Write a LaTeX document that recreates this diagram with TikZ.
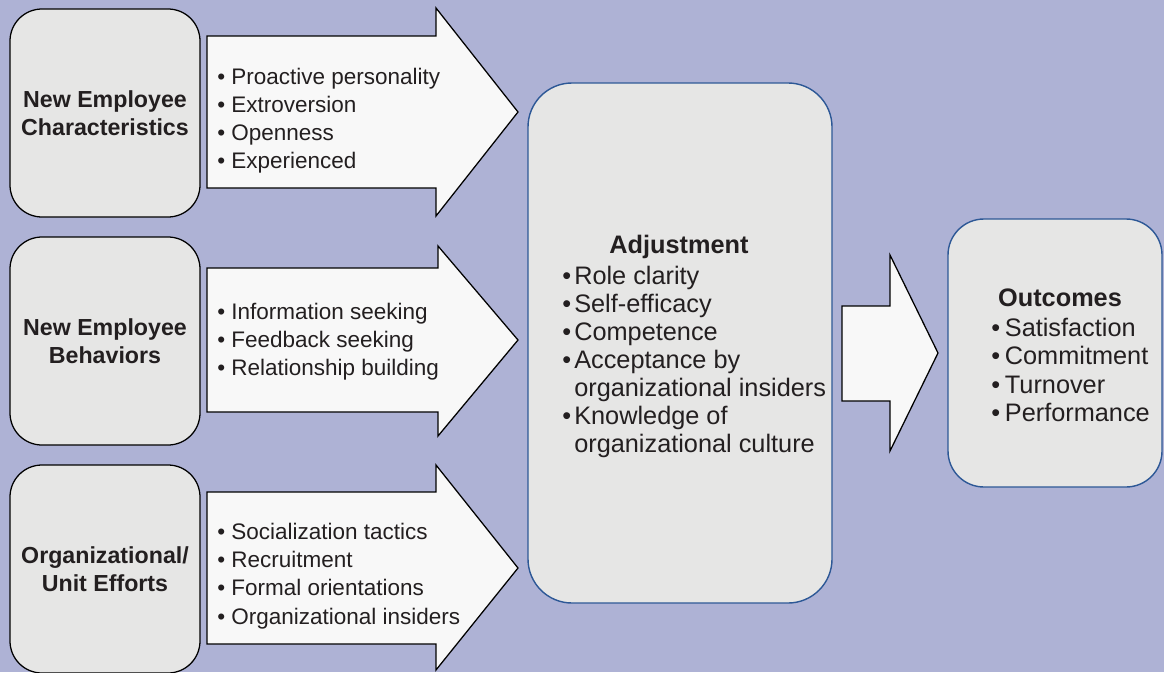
\documentclass[tikz,border=0pt]{standalone}
\usepackage{fontspec}
\setmainfont{Liberation Sans}

\definecolor{bglav}{HTML}{AEB2D5}
\definecolor{boxgray}{HTML}{E6E6E5}
\definecolor{arrowwhite}{HTML}{F8F8F8}
\definecolor{boxblue}{HTML}{2D5896}
\definecolor{inkgray}{HTML}{231F20}

% bullet with a fixed gap before the item text
\newcommand{\bpt}[1][3.5mm]{\makebox[#1][l]{\textbullet}}

\tikzset{
  leftbox/.style={draw=black, line width=0.9pt, fill=boxgray, rounded corners=8mm,
    minimum width=47.5mm, minimum height=52mm, align=center, text=inkgray,
    font=\fontsize{16.5}{20}\selectfont\bfseries},
  mainbox/.style={draw=boxblue, line width=1pt, fill=boxgray},
  bigarrow/.style={draw=black, line width=0.9pt, fill=arrowwhite, line join=miter},
  bullets/.style={anchor=west, align=left, inner sep=0pt, text=inkgray,
    font=\fontsize{16}{20}\selectfont},
  bigbullets/.style={bullets, font=\fontsize{18}{20}\selectfont},
  boxtitle/.style={inner sep=0pt, text=inkgray, font=\fontsize{18}{20}\selectfont\bfseries},
}

\begin{document}
\begin{tikzpicture}[x=0.25mm, y=-0.25mm]
    % Background
    \fill[bglav] (0,0) rectangle (1164,672);
    \useasboundingbox (0,0) rectangle (1164,672);

    % Antecedent boxes
    \node[leftbox] (charbox) at (105,113) {New Employee\\Characteristics};
    \node[leftbox] (behavbox) at (105,341) {New Employee\\Behaviors};
    \node[leftbox] (effortbox) at (105,569) {Organizational/\\Unit Efforts};

    % Block arrows into the middle box
    \draw[bigarrow] (207,36) -- (436,36) -- (436,8) -- (518,112) -- (436,216)
        -- (436,188) -- (207,188) -- cycle;
    \draw[bigarrow] (207,268) -- (438,268) -- (438,246) -- (518,340) -- (438,436)
        -- (438,412) -- (207,412) -- cycle;
    \draw[bigarrow] (207,492) -- (436,492) -- (436,465) -- (518,568) -- (436,670)
        -- (436,644) -- (207,644) -- cycle;

    % Bullets on the arrows
    \node[bullets] (charlist) at (217,121) {\bpt Proactive personality\\
        \bpt Extroversion\\ \bpt Openness\\ \bpt Experienced};
    \node[bullets] (behavlist) at (217,342) {\bpt Information seeking\\
        \bpt Feedback seeking\\ \bpt Relationship building};
    \node[bullets] (effortlist) at (217,576) {\bpt Socialization tactics\\
        \bpt Recruitment\\ \bpt Formal orientations\\ \bpt Organizational insiders};

    % Adjustment
    \node[mainbox, minimum width=76mm, minimum height=130mm, rounded corners=11mm]
        (adjbox) at (680,343) {};
    \node[boxtitle] (adjtitle) at (679,247) {Adjustment};
    \node[bigbullets] (adjlist) at (562,362) {\bpt[3mm]Role clarity\\
        \bpt[3mm]Self-efficacy\\ \bpt[3mm]Competence\\
        \bpt[3mm]Acceptance by\\ \hspace*{3mm}organizational insiders\\
        \bpt[3mm]Knowledge of\\ \hspace*{3mm}organizational culture};

    % Arrow to outcomes
    \draw[bigarrow] (842,306) -- (890,306) -- (890,255) -- (938,353) -- (890,451)
        -- (890,401) -- (842,401) -- cycle;

    % Outcomes
    \node[mainbox, minimum width=53.5mm, minimum height=67mm, rounded corners=9mm]
        (outbox) at (1055,353) {};
    \node[boxtitle] (outtitle) at (1060,298) {Outcomes};
    \node[bigbullets] (outlist) at (991,370) {\bpt[3.4mm]Satisfaction\\
        \bpt[3.4mm]Commitment\\ \bpt[3.4mm]Turnover\\ \bpt[3.4mm]Performance};
\end{tikzpicture}
\end{document}
